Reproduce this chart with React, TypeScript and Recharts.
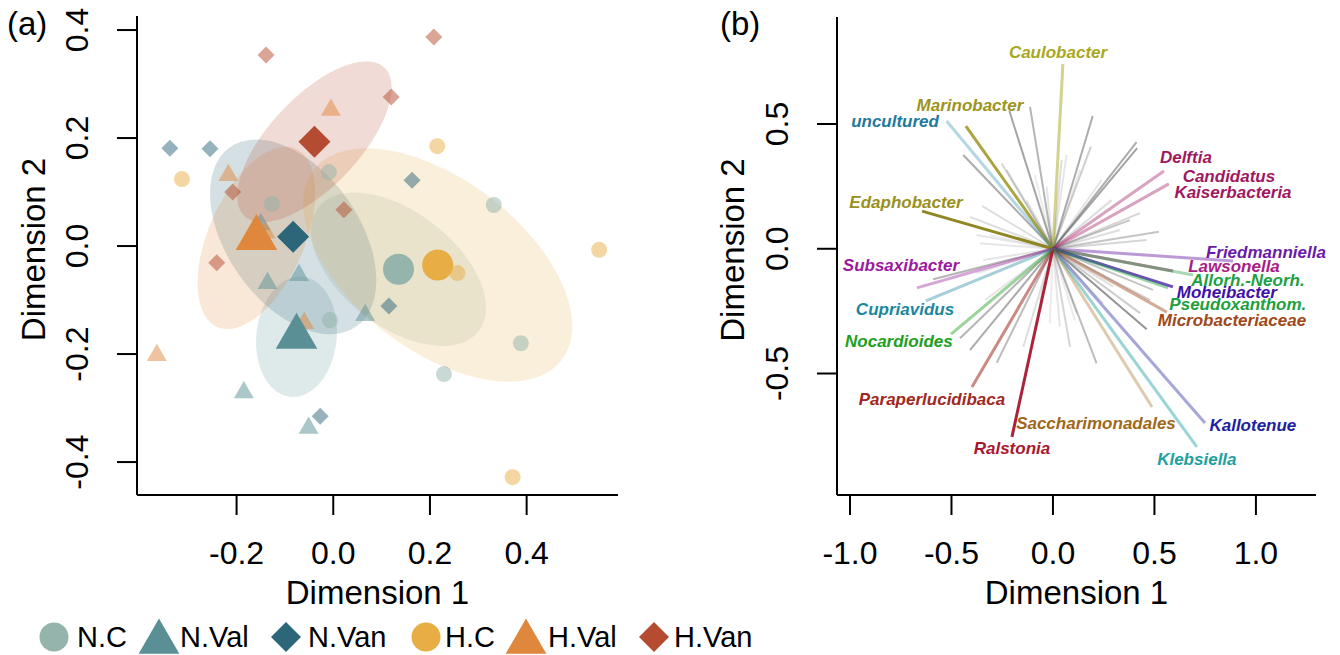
import React from "react";
import { ScatterChart, Scatter, XAxis, YAxis, ReferenceLine } from "recharts";

const FONT = '"Liberation Sans", Arial, Helvetica, sans-serif';

// ---------- panel (a): sample ordination ----------
const GROUPS = ["N.C", "N.Val", "N.Van", "H.C", "H.Val", "H.Van"];
const GROUP_COLORS = ["#94b4ac", "#5a8f96", "#2d6679", "#e8ad45", "#e0873e", "#b54b30"];
const GROUP_SHAPES = ["circle", "triangle", "diamond", "circle", "triangle", "diamond"];

const NC_POINTS = [
  { x: -0.009, y: 0.137 },
  { x: -0.127, y: 0.078 },
  { x: 0.332, y: 0.076 },
  { x: -0.007, y: -0.137 },
  { x: 0.388, y: -0.18 },
  { x: 0.229, y: -0.237 },
];
const NVAL_POINTS = [
  { x: -0.15, y: 0.04 },
  { x: -0.136, y: -0.069 },
  { x: -0.071, y: -0.054 },
  { x: 0.066, y: -0.128 },
  { x: -0.185, y: -0.271 },
  { x: -0.051, y: -0.337 },
];
const NVAN_POINTS = [
  { x: -0.338, y: 0.181 },
  { x: -0.255, y: 0.18 },
  { x: 0.163, y: 0.122 },
  { x: 0.115, y: -0.111 },
  { x: -0.027, y: -0.315 },
];
const HC_POINTS = [
  { x: -0.313, y: 0.124 },
  { x: 0.215, y: 0.185 },
  { x: 0.257, y: -0.05 },
  { x: 0.55, y: -0.007 },
  { x: 0.371, y: -0.428 },
];
const HVAL_POINTS = [
  { x: -0.005, y: 0.252 },
  { x: -0.217, y: 0.131 },
  { x: -0.14, y: 0.025 },
  { x: -0.06, y: -0.143 },
  { x: -0.365, y: -0.202 },
];
const HVAN_POINTS = [
  { x: -0.139, y: 0.354 },
  { x: 0.208, y: 0.387 },
  { x: 0.12, y: 0.276 },
  { x: -0.208, y: 0.1 },
  { x: 0.022, y: 0.067 },
  { x: -0.241, y: -0.031 },
];
const SAMPLES = [NC_POINTS, NVAL_POINTS, NVAN_POINTS, HC_POINTS, HVAL_POINTS, HVAN_POINTS];

const CENTROID_X = [0.135, -0.076, -0.083, 0.216, -0.159, -0.039];
const CENTROID_Y = [-0.043, -0.168, 0.017, -0.035, 0.015, 0.193];
// confidence ellipses around the centroids (semi-axes in data units, rotation in degrees)
const ELLIPSE_A = [0.202, 0.112, 0.212, 0.312, 0.184, 0.2];
const ELLIPSE_B = [0.11, 0.083, 0.131, 0.164, 0.097, 0.088];
const ELLIPSE_ANGLE = [-32, 82, -48, -32, 62, 42];

const A_X_DOMAIN = [-0.406, 0.589];
const A_Y_DOMAIN = [-0.461, 0.426];
const A_X_TICKS = [-0.2, 0, 0.2, 0.4];
const A_Y_TICKS = [-0.4, -0.2, 0, 0.2, 0.4];

// ---------- panel (b): taxa vectors ----------
const TAXA = [
  "Caulobacter", "Marinobacter", "uncultured", "Edaphobacter", "Delftia",
  "Candidatus Kaiserbacteria", "Friedmanniella", "Lawsonella", "Allorh.-Neorh.", "Moheibacter",
  "Pseudoxanthom.", "Microbacteriaceae", "Kallotenue", "Klebsiella", "Saccharimonadales",
  "Ralstonia", "Paraperlucidibaca", "Nocardioides", "Cupriavidus", "Subsaxibacter",
];
const TAXA_X = [0.049, -0.429, -0.524, -0.645, 0.547, 0.571, 0.887, 0.591, 0.69, 0.591, 0.567, 0.561, 0.749, 0.709, 0.488, -0.202, -0.399, -0.502, -0.626, -0.67];
const TAXA_Y = [0.74, 0.492, 0.512, 0.151, 0.312, 0.26, -0.049, -0.089, -0.105, -0.153, -0.157, -0.254, -0.698, -0.794, -0.634, -0.754, -0.554, -0.342, -0.209, -0.157];
const TAXA_COLOR = [
  "#a8a822", "#9c9420", "#2a8ab0", "#8a8018", "#a01860",
  "#a01860", "#6a20a8", "#902060", "#20a040", "#4010a8",
  "#20a040", "#a04818", "#2020a0", "#20a0a0", "#a06818",
  "#a81830", "#a02820", "#20a020", "#2088a0", "#9a20a0",
];
const TAXA_ALPHA = [0.5, 0.85, 0.35, 0.95, 0.4, 0.4, 0.45, 0.55, 0.4, 0.75, 0.45, 0.45, 0.4, 0.45, 0.35, 0.95, 0.55, 0.45, 0.4, 0.4];

const LABEL_TEXT = [
  "Caulobacter", "Marinobacter", "uncultured", "Edaphobacter", "Delftia", "Candidatus",
  "Kaiserbacteria", "Friedmanniella", "Lawsonella", "Allorh.-Neorh.", "Moheibacter",
  "Pseudoxanthom.", "Microbacteriaceae", "Kallotenue", "Klebsiella", "Saccharimonadales",
  "Ralstonia", "Paraperlucidibaca", "Nocardioides", "Cupriavidus", "Subsaxibacter",
];
const LABEL_X = [0.025, -0.409, -0.778, -0.724, 0.655, 0.867, 0.887, 1.049, 0.892, 0.961, 0.857, 0.911, 0.882, 0.985, 0.709, 0.212, -0.202, -0.596, -0.759, -0.729, -0.749];
const LABEL_Y = [0.785, 0.576, 0.512, 0.187, 0.364, 0.288, 0.227, -0.013, -0.073, -0.129, -0.177, -0.225, -0.289, -0.71, -0.843, -0.702, -0.802, -0.606, -0.373, -0.245, -0.069];
const LABEL_COLOR = [
  "#a8a822", "#9c9420", "#1f7a9e", "#9a9020", "#a01860", "#a01860",
  "#a01860", "#6a1aa8", "#a81c88", "#20a040", "#4010a8",
  "#20a040", "#a04818", "#2020a0", "#20a0a0", "#a06818",
  "#a81830", "#a02820", "#20a020", "#1a88a0", "#9a1aa0",
];

// remaining (unlabelled) genera
const OTHER_X = [-0.215, -0.113, 0.196, 0.187, 0.412, 0.415, -0.442, 0.429, 0.522, 0.462, -0.348, -0.409, -0.376, -0.36, -0.253, -0.228, 0.067, 0.043, 0.24, -0.031, 0.289, -0.13, 0.379, -0.59, -0.458, -0.409, -0.277, -0.146, -0.015, 0.084, 0.215, 0.462, 0.248, -0.376, -0.343, 0.296, 0.493, 0.429, 0.034, 0.133, -0.089, 0.33, -0.31, -0.064, 0.108, -0.335, 0.478, 0.117];
const OTHER_Y = [0.553, 0.569, 0.532, 0.409, 0.427, 0.403, 0.376, 0.143, 0.068, 0.035, 0.171, 0.128, 0.055, 0.022, 0.342, 0.316, 0.376, 0.356, 0.276, 0.249, 0.195, 0.195, 0.115, -0.122, -0.359, -0.406, -0.457, -0.393, -0.299, -0.393, -0.459, -0.323, -0.219, -0.098, -0.045, -0.152, -0.165, -0.258, -0.312, 0.316, 0.295, 0.075, 0.055, -0.206, -0.287, -0.206, -0.206, -0.259];
const OTHER_ALPHA = [0.55, 0.45, 0.5, 0.3, 0.5, 0.55, 0.5, 0.25, 0.35, 0.25, 0.2, 0.2, 0.15, 0.15, 0.25, 0.2, 0.15, 0.2, 0.15, 0.15, 0.2, 0.15, 0.35, 0.45, 0.45, 0.5, 0.4, 0.2, 0.12, 0.25, 0.4, 0.65, 0.15, 0.15, 0.15, 0.2, 0.35, 0.3, 0.15, 0.12, 0.12, 0.2, 0.1, 0.12, 0.12, 0.15, 0.3, 0.15];

const B_X_DOMAIN = [-1.064, 1.296];
const B_Y_DOMAIN = [-0.987, 0.929];
const B_X_TICKS = [-1, -0.5, 0, 0.5, 1];
const B_Y_TICKS = [-0.5, 0, 0.5];

// ---------- layout ----------
const H = 655;
const A_W = 640;
const A_MARGIN = { top: 16, right: 22, bottom: 50, left: 0 };
const A_YAXIS_W = 137;
const B_W = 700;
const B_MARGIN = { top: 17, right: 24, bottom: 50, left: 0 };
const B_YAXIS_W = 197;
const XAXIS_H = 110;

const A_PLOT_W = A_W - A_MARGIN.left - A_MARGIN.right - A_YAXIS_W;
const A_PLOT_H = H - A_MARGIN.top - A_MARGIN.bottom - XAXIS_H;
const KX_A = A_PLOT_W / (A_X_DOMAIN[1] - A_X_DOMAIN[0]);
const KY_A = A_PLOT_H / (A_Y_DOMAIN[1] - A_Y_DOMAIN[0]);

function marker(shape: string, cx: number, cy: number, size: number, fill: string, opacity = 1) {
  if (shape === "circle") return <circle cx={cx} cy={cy} r={size} fill={fill} fillOpacity={opacity} />;
  if (shape === "diamond")
    return (
      <polygon
        points={`${cx},${cy - size} ${cx + size},${cy} ${cx},${cy + size} ${cx - size},${cy}`}
        fill={fill}
        fillOpacity={opacity}
      />
    );
  const xc = size * 0.866;
  return (
    <polygon
      points={`${cx},${cy - size} ${cx + xc},${cy + size / 2} ${cx - xc},${cy + size / 2}`}
      fill={fill}
      fillOpacity={opacity}
    />
  );
}

const SMALL = { circle: 8, diamond: 8.5, triangle: 11.5 } as Record<string, number>;
const BIG = { circle: 15.5, diamond: 16, triangle: 24 } as Record<string, number>;

const fmt = (v: number) => Number(v).toFixed(1);

const XTick = (props: any) => {
  const { x, y, payload } = props;
  return (
    <text x={x} y={y + 47} textAnchor="middle" fontSize={32} fill="#000" fontFamily={FONT}>
      {fmt(payload.value)}
    </text>
  );
};

const YTick = (props: any) => {
  const { x, y, payload } = props;
  const cx = x - 38;
  return (
    <text
      x={cx}
      y={y}
      transform={`rotate(-90 ${cx} ${y})`}
      textAnchor="middle"
      dominantBaseline="central"
      fontSize={32}
      fill="#000"
      fontFamily={FONT}
    >
      {fmt(payload.value)}
    </text>
  );
};

const xTitle = (text: string) => (p: any) => {
  const vb = p.viewBox || { x: 0, y: 0, width: 0, height: 0 };
  return (
    <text x={vb.x + vb.width / 2} y={vb.y + 109} textAnchor="middle" fontSize={33} fill="#000" fontFamily={FONT}>
      {text}
    </text>
  );
};

const yTitle = (text: string, dx: number) => (p: any) => {
  const vb = p.viewBox || { x: 0, y: 0, width: 0, height: 0 };
  const cx = vb.x + dx;
  const cy = vb.y + vb.height / 2 - 6;
  return (
    <text
      x={cx}
      y={cy}
      transform={`rotate(-90 ${cx} ${cy})`}
      textAnchor="middle"
      dominantBaseline="central"
      fontSize={33}
      fill="#000"
      fontFamily={FONT}
    >
      {text}
    </text>
  );
};

const axisStroke = { stroke: "#000", strokeWidth: 2 };

function PanelA() {
  const ellipses = GROUPS.map((g, i) => ({
    x: CENTROID_X[i],
    y: CENTROID_Y[i],
    a: ELLIPSE_A[i],
    b: ELLIPSE_B[i],
    angle: ELLIPSE_ANGLE[i],
    color: GROUP_COLORS[i],
  }));
  const EllipseShape = (p: any) => {
    const d = p.payload;
    return (
      <ellipse
        cx={0}
        cy={0}
        rx={d.a}
        ry={d.b}
        transform={`translate(${p.cx},${p.cy}) scale(${KX_A},${-KY_A}) rotate(${d.angle})`}
        fill={d.color}
        fillOpacity={0.2}
      />
    );
  };
  return (
    <ScatterChart width={A_W} height={H} margin={A_MARGIN}>
      <XAxis
        type="number"
        dataKey="x"
        domain={A_X_DOMAIN}
        ticks={A_X_TICKS}
        height={XAXIS_H}
        tickSize={20}
        axisLine={axisStroke}
        tickLine={axisStroke}
        tick={<XTick />}
        label={{ content: xTitle("Dimension 1") }}
      />
      <YAxis
        type="number"
        dataKey="y"
        domain={A_Y_DOMAIN}
        ticks={A_Y_TICKS}
        width={A_YAXIS_W}
        tickSize={20}
        axisLine={axisStroke}
        tickLine={axisStroke}
        tick={<YTick />}
        label={{ content: yTitle("Dimension 2", 33) }}
      />
      <Scatter data={ellipses} shape={EllipseShape} isAnimationActive={false} />
      {GROUPS.map((g, i) => (
        <Scatter
          key={"s" + g}
          name={g}
          data={SAMPLES[i]}
          isAnimationActive={false}
          shape={(p: any) => marker(GROUP_SHAPES[i], p.cx, p.cy, SMALL[GROUP_SHAPES[i]], GROUP_COLORS[i], 0.5)}
        />
      ))}
      {GROUPS.map((g, i) => (
        <Scatter
          key={"c" + g}
          name={g + " centroid"}
          data={[{ x: CENTROID_X[i], y: CENTROID_Y[i] }]}
          isAnimationActive={false}
          shape={(p: any) => marker(GROUP_SHAPES[i], p.cx, p.cy, BIG[GROUP_SHAPES[i]], GROUP_COLORS[i])}
        />
      ))}
    </ScatterChart>
  );
}

function PanelB() {
  const labels = LABEL_TEXT.map((t, i) => ({ x: LABEL_X[i], y: LABEL_Y[i], name: t, color: LABEL_COLOR[i] }));
  const LabelShape = (p: any) => (
    <text
      x={p.cx}
      y={p.cy}
      textAnchor="middle"
      dominantBaseline="central"
      fill={p.payload.color}
      fontSize={17}
      fontWeight="bold"
      fontStyle="italic"
      fontFamily={FONT}
    >
      {p.payload.name}
    </text>
  );
  return (
    <ScatterChart width={B_W} height={H} margin={B_MARGIN} style={{ overflow: "visible" }}>
      <XAxis
        type="number"
        dataKey="x"
        domain={B_X_DOMAIN}
        ticks={B_X_TICKS}
        height={XAXIS_H}
        tickSize={20}
        axisLine={axisStroke}
        tickLine={axisStroke}
        tick={<XTick />}
        label={{ content: xTitle("Dimension 1") }}
      />
      <YAxis
        type="number"
        dataKey="y"
        domain={B_Y_DOMAIN}
        ticks={B_Y_TICKS}
        width={B_YAXIS_W}
        tickSize={20}
        axisLine={axisStroke}
        tickLine={axisStroke}
        tick={<YTick />}
        label={{ content: yTitle("Dimension 2", 92) }}
      />
      {OTHER_X.map((x, i) => (
        <ReferenceLine
          key={"o" + i}
          segment={[{ x: 0, y: 0 }, { x, y: OTHER_Y[i] }]}
          stroke="#5a5a5a"
          strokeWidth={2}
          strokeOpacity={OTHER_ALPHA[i]}
          ifOverflow="visible"
        />
      ))}
      {TAXA.map((t, i) => (
        <ReferenceLine
          key={t}
          segment={[{ x: 0, y: 0 }, { x: TAXA_X[i], y: TAXA_Y[i] }]}
          stroke={TAXA_COLOR[i]}
          strokeWidth={3}
          strokeOpacity={TAXA_ALPHA[i]}
          ifOverflow="visible"
        />
      ))}
      <Scatter data={labels} shape={LabelShape} isAnimationActive={false} />
    </ScatterChart>
  );
}

function GroupLegend() {
  const markerX = [54, 159, 286, 426, 526, 654];
  const textX = [77, 180, 308, 445, 548, 674];
  const size: Record<string, number> = { circle: 14.5, triangle: 23.5, diamond: 15 };
  return (
    <svg width={800} height={50} style={{ position: "absolute", left: 0, top: 612 }}>
      {GROUPS.map((g, i) => (
        <g key={g}>
          {marker(GROUP_SHAPES[i], markerX[i], GROUP_SHAPES[i] === "triangle" ? 30 : 25, size[GROUP_SHAPES[i]], GROUP_COLORS[i])}
          <text x={textX[i]} y={35} fontSize={29} fill="#000" fontFamily={FONT}>
            {g}
          </text>
        </g>
      ))}
    </svg>
  );
}

export default function App() {
  return (
    <div
      style={{
        position: "absolute",
        left: 0,
        top: 0,
        width: 1340,
        height: H,
        background: "#fff",
        fontFamily: FONT,
        overflow: "hidden",
      }}
    >
      <div style={{ position: "absolute", left: 0, top: 0 }}>
        <PanelA />
      </div>
      <div style={{ position: "absolute", left: 640, top: 0 }}>
        <PanelB />
      </div>
      <GroupLegend />
      <div style={{ position: "absolute", left: 7, top: 4, fontSize: 33, lineHeight: "40px" }}>(a)</div>
      <div style={{ position: "absolute", left: 720, top: 4, fontSize: 33, lineHeight: "40px" }}>(b)</div>
    </div>
  );
}
